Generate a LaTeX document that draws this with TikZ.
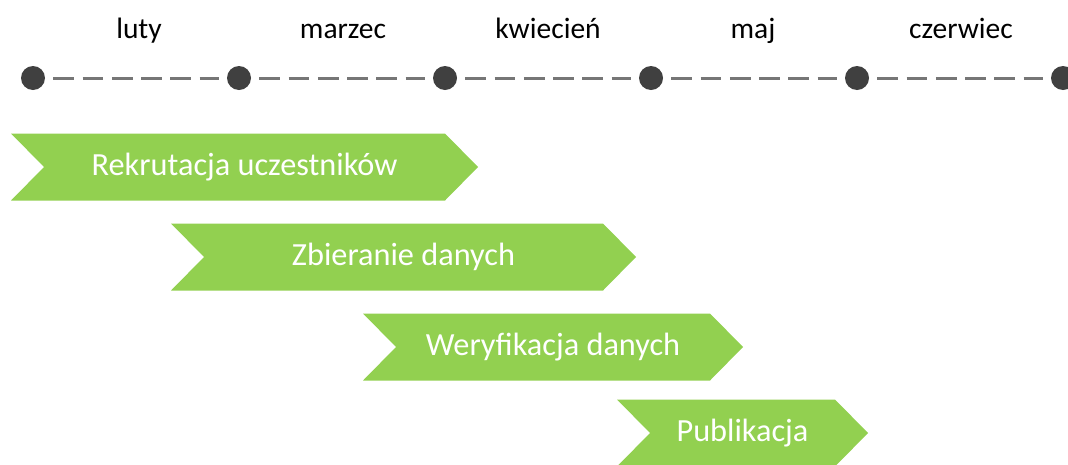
\documentclass[tikz,border=0pt]{standalone}
\usepackage{fontspec}
\setmainfont{Carlito}
\definecolor{chevgreen}{HTML}{92D050}
\definecolor{dotgray}{HTML}{404040}
\definecolor{dashgray}{HTML}{767676}
\begin{document}
\begin{tikzpicture}[x=1pt,y=-1pt,
  dotnode/.style={circle,fill=dotgray,inner sep=0pt,minimum size=24pt},
  dashline/.style={draw=dashgray,line width=3pt,dash pattern=on 20.7pt off 8.6pt,shorten <=8pt,shorten >=8pt},
  month/.style={font=\fontsize{29.5}{32}\selectfont,text=black,inner sep=0pt,anchor=base},
  chevtext/.style={font=\fontsize{32.3}{35}\selectfont,text=white,inner sep=0pt},
  chevfill/.style={fill=chevgreen}]
\useasboundingbox (0,0) rectangle (1068,464);
% timeline dots
\foreach \i/\x in {1/33,2/239,3/445,4/651,5/857,6/1063}
  \node[dotnode] (d\i) at (\x,78) {};
\foreach \a/\b in {1/2,2/3,3/4,4/5,5/6}
  \draw[dashline] (d\a) -- (d\b);
% month labels
\node[month] (m1) at (139,38) {luty};
\node[month] (m2) at (343,38) {marzec};
\node[month] (m3) at (548,38) {kwiecień};
\node[month] (m4) at (753,38) {maj};
\node[month] (m5) at (961,38) {czerwiec};
% chevrons: left x, tip x, center y
\newcommand{\mychev}[3]{%
  \fill[chevfill] (#1,#3-33.5) -- (#2-33,#3-33.5) -- (#2,#3) -- (#2-33,#3+33.5) -- (#1,#3+33.5) -- (#1+33,#3) -- cycle;}
\mychev{11}{478}{167}
\mychev{171}{636}{257}
\mychev{363}{743}{347}
\mychev{617}{868}{433}
\node[chevtext] (c1) at (244.5,167) {Rekrutacja uczestników};
\node[chevtext] (c2) at (403.5,257) {Zbieranie danych};
\node[chevtext] (c3) at (553,347) {Weryfikacja danych};
\node[chevtext] (c4) at (742.5,433) {Publikacja};
\end{tikzpicture}
\end{document}
